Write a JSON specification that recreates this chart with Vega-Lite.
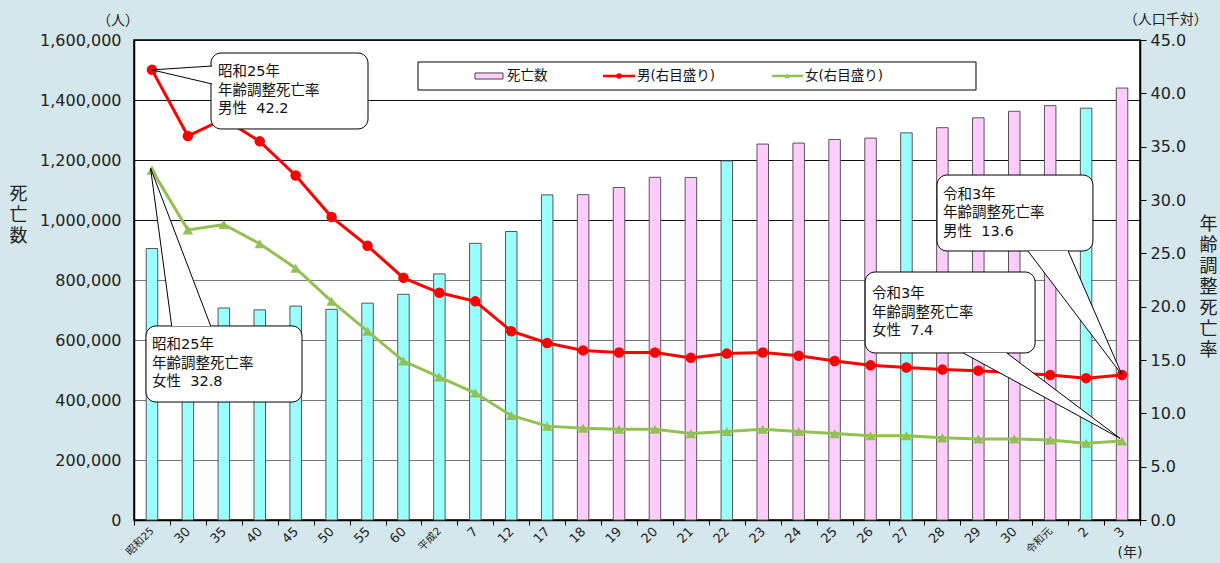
{
  "$schema": "https://vega.github.io/schema/vega-lite/v6.json",
  "width": 1006,
  "height": 480,
  "autosize": {"type": "none"},
  "padding": {"left": 134, "top": 40, "right": 80, "bottom": 43},
  "background": "#d4e7ec",
  "config": {
    "font": "DejaVu Sans, Noto Sans CJK JP",
    "view": {"fill": "white", "stroke": "black", "strokeWidth": 1.5},
    "axis": {"labelFont": "DejaVu Sans, Noto Sans CJK JP", "titleFont": "Noto Sans CJK JP", "labelColor": "#222", "titleColor": "#222", "domainColor": "black", "tickColor": "black", "domainWidth": 1.5},
    "axisX": {"labelAngle": -45, "labelAlign": "right", "labelBaseline": "middle"}
  },
  "datasets": {
    "deaths": [
      {"year": 1950, "deaths": 904876, "male": 42.2, "female": 32.8, "census": "yes"},
      {"year": 1955, "deaths": 693523, "male": 36.0, "female": 27.2, "census": "yes"},
      {"year": 1960, "deaths": 706599, "male": 37.6, "female": 27.7, "census": "yes"},
      {"year": 1965, "deaths": 700438, "male": 35.5, "female": 25.9, "census": "yes"},
      {"year": 1970, "deaths": 712962, "male": 32.3, "female": 23.6, "census": "yes"},
      {"year": 1975, "deaths": 702275, "male": 28.4, "female": 20.5, "census": "yes"},
      {"year": 1980, "deaths": 722801, "male": 25.7, "female": 17.7, "census": "yes"},
      {"year": 1985, "deaths": 752283, "male": 22.7, "female": 14.9, "census": "yes"},
      {"year": 1990, "deaths": 820305, "male": 21.3, "female": 13.4, "census": "yes"},
      {"year": 1995, "deaths": 922139, "male": 20.5, "female": 11.9, "census": "yes"},
      {"year": 2000, "deaths": 961653, "male": 17.7, "female": 9.8, "census": "yes"},
      {"year": 2005, "deaths": 1083796, "male": 16.6, "female": 8.8, "census": "yes"},
      {"year": 2006, "deaths": 1084450, "male": 15.9, "female": 8.6, "census": "no"},
      {"year": 2007, "deaths": 1108334, "male": 15.7, "female": 8.5, "census": "no"},
      {"year": 2008, "deaths": 1142407, "male": 15.7, "female": 8.5, "census": "no"},
      {"year": 2009, "deaths": 1141865, "male": 15.2, "female": 8.1, "census": "no"},
      {"year": 2010, "deaths": 1197012, "male": 15.6, "female": 8.3, "census": "yes"},
      {"year": 2011, "deaths": 1253066, "male": 15.7, "female": 8.5, "census": "no"},
      {"year": 2012, "deaths": 1256359, "male": 15.4, "female": 8.3, "census": "no"},
      {"year": 2013, "deaths": 1268436, "male": 14.9, "female": 8.1, "census": "no"},
      {"year": 2014, "deaths": 1273004, "male": 14.5, "female": 7.9, "census": "no"},
      {"year": 2015, "deaths": 1290444, "male": 14.3, "female": 7.9, "census": "yes"},
      {"year": 2016, "deaths": 1307748, "male": 14.1, "female": 7.7, "census": "no"},
      {"year": 2017, "deaths": 1340567, "male": 14.0, "female": 7.6, "census": "no"},
      {"year": 2018, "deaths": 1362470, "male": 13.8, "female": 7.6, "census": "no"},
      {"year": 2019, "deaths": 1381093, "male": 13.6, "female": 7.5, "census": "no"},
      {"year": 2020, "deaths": 1372755, "male": 13.3, "female": 7.2, "census": "yes"},
      {"year": 2021, "deaths": 1439856, "male": 13.6, "female": 7.4, "census": "no"}
    ],
    "callouts": [
      {"id": "m1950", "x": 2.143, "x2": 6.513, "y": 43.78, "y2": 36.66, "tx": 2.338, "ty": 42.61, "text": "昭和25年\n年齢調整死亡率\n男性\u00a0\u00a042.2"},
      {"id": "f1950", "x": 0.334, "x2": 4.676, "y": 18.19, "y2": 11.06, "tx": 0.501, "ty": 17.02, "text": "昭和25年\n年齢調整死亡率\n女性\u00a0\u00a032.8"},
      {"id": "m2021", "x": 22.35, "x2": 26.69, "y": 32.34, "y2": 25.22, "tx": 22.52, "ty": 31.17, "text": "令和3年\n年齢調整死亡率\n男性\u00a0\u00a013.6"},
      {"id": "f2021", "x": 20.35, "x2": 25.08, "y": 23.25, "y2": 15.66, "tx": 20.54, "ty": 21.80, "text": "令和3年\n年齢調整死亡率\n女性\u00a0\u00a07.4"}
    ],
    "pointers": [
      {"id": "m1950", "k": 0, "x": 2.171, "y": 42.56},
      {"id": "m1950", "k": 1, "x": 0.5, "y": 42.2},
      {"id": "m1950", "k": 2, "x": 2.171, "y": 40.88},
      {"id": "f1950", "k": 0, "x": 1.049, "y": 18.19},
      {"id": "f1950", "k": 1, "x": 0.46, "y": 33.0},
      {"id": "f1950", "k": 2, "x": 2.135, "y": 18.19},
      {"id": "m2021", "k": 0, "x": 24.88, "y": 25.22},
      {"id": "m2021", "k": 1, "x": 27.5, "y": 13.6},
      {"id": "m2021", "k": 2, "x": 26.0, "y": 25.22},
      {"id": "f2021", "k": 0, "x": 23.08, "y": 15.66},
      {"id": "f2021", "k": 1, "x": 27.44, "y": 7.66},
      {"id": "f2021", "k": 2, "x": 24.29, "y": 15.66}
    ],
    "legendBox": [{"x": 7.905, "x2": 23.435, "y": 42.94, "y2": 40.31}],
    "legendItems": [
      {"label": "死亡数", "sx": 9.491, "sx2": 10.27, "mx": 9.88, "tx": 10.381},
      {"label": "男(右目盛り)", "sx": 13.053, "sx2": 13.944, "mx": 13.499, "tx": 14.0},
      {"label": "女(右目盛り)", "sx": 17.757, "sx2": 18.62, "mx": 18.18, "tx": 18.675}
    ],
    "units": [
      {"text": "（人）", "x": -0.445, "y": 46.75},
      {"text": "（人口千対）", "x": 28.72, "y": 46.85},
      {"text": "(年)", "x": 27.72, "y": -3.1}
    ]
  },
  "layer": [
    {
      "data": {"name": "deaths"},
      "encoding": {
        "x": {
          "field": "year", "type": "ordinal",
          "scale": {"paddingInner": 0, "paddingOuter": 0},
          "axis": {
            "title": null,
            "labelExpr": "!isValid(datum.value) || !isFinite(datum.value) ? '' : datum.value == 1950 ? '昭和25' : datum.value < 1989 ? '' + (datum.value - 1925) : datum.value == 1990 ? '平成2' : datum.value < 2019 ? '' + (datum.value - 1988) : datum.value == 2019 ? '令和元' : '' + (datum.value - 2018)",
            "labelAngle": -45,
            "labelAlign": "right",
            "labelBaseline": "middle",
            "labelFontSize": {"condition": {"test": "datum.value == 1950 || datum.value == 1990 || datum.value == 2019", "value": 10.5}, "value": 13},
            "labelFlush": false,
            "labelOverlap": false,
            "tickBand": "extent",
            "tickSize": 5,
            "labelPadding": 4,
            "grid": false
          }
        }
      },
      "layer": [
        {
          "mark": {"type": "bar", "width": 11.5, "stroke": "#555", "strokeWidth": 1},
          "encoding": {
            "y": {
              "field": "deaths", "type": "quantitative",
              "scale": {"domain": [0, 1600000], "nice": false},
              "axis": {
                "values": [0, 200000, 400000, 600000, 800000, 1000000, 1200000, 1400000, 1600000],
                "format": ",d",
                "grid": true,
                "gridColor": {"condition": {"test": "datum.value >= 1000000", "value": "#111"}, "value": "#777"},
                "gridWidth": 1.2,
                "ticks": false,
                "labelPadding": 13,
                "labelFontSize": 16,
                "title": ["死", "亡", "数"],
                "titleAngle": 0,
                "titleX": -116,
                "titleY": 145,
                "titleAlign": "center",
                "titleBaseline": "top",
                "titleFontSize": 18,
                "titleFontWeight": "normal",
                "titleLineHeight": 21
              }
            },
            "color": {"field": "census", "type": "nominal", "scale": {"domain": ["yes", "no"], "range": ["#99ffff", "#ffccff"]}, "legend": null}
          }
        },
        {
          "transform": [{"fold": ["male", "female"], "as": ["sex", "rate"]}],
          "encoding": {
            "y": {
              "field": "rate", "type": "quantitative",
              "scale": {"domain": [0, 45], "nice": false},
              "axis": {
                "orient": "right",
                "values": [0, 5, 10, 15, 20, 25, 30, 35, 40, 45],
                "format": ".1f",
                "grid": false,
                "tickSize": 6,
                "labelPadding": 4,
                "labelFontSize": 16,
                "labelAngle": 0,
                "labelAlign": "left",
                "labelBaseline": "middle",
                "title": ["年", "齢", "調", "整", "死", "亡", "率"],
                "titleAngle": 0,
                "titleX": 68,
                "titleY": 175,
                "titleAlign": "center",
                "titleBaseline": "top",
                "titleFontSize": 18,
                "titleFontWeight": "normal",
                "titleLineHeight": 21
              }
            },
            "detail": {"field": "sex"}
          },
          "layer": [
            {
              "mark": {"type": "line", "strokeWidth": 3},
              "encoding": {"color": {"condition": {"test": "datum.sex == 'male'", "value": "#ff0000"}, "value": "#93c053"}}
            },
            {
              "mark": {"type": "point", "filled": true, "opacity": 1, "size": 110},
              "encoding": {
                "color": {"condition": {"test": "datum.sex == 'male'", "value": "#ff0000"}, "value": "#93c053"},
                "shape": {"condition": {"test": "datum.sex == 'male'", "value": "circle"}, "value": "triangle-up"}
              }
            }
          ]
        }
      ],
      "resolve": {"scale": {"y": "independent"}}
    },
    {
      "layer": [
        {
          "data": {"name": "callouts"},
          "mark": {"type": "rect", "fill": "white", "stroke": "black", "strokeWidth": 1, "cornerRadius": 10},
          "encoding": {
            "x": {"field": "x", "type": "quantitative", "scale": {"domain": [0, 28], "nice": false, "zero": false}, "axis": null},
            "x2": {"field": "x2"},
            "y": {"field": "y", "type": "quantitative", "scale": {"domain": [0, 45], "nice": false}, "axis": null},
            "y2": {"field": "y2"}
          }
        },
        {
          "data": {"name": "pointers"},
          "mark": {"type": "line", "stroke": "black", "strokeWidth": 1, "fill": "white"},
          "encoding": {
            "x": {"field": "x", "type": "quantitative", "axis": null},
            "y": {"field": "y", "type": "quantitative", "axis": null},
            "detail": {"field": "id"},
            "order": {"field": "k"}
          }
        },
        {
          "data": {"name": "callouts"},
          "mark": {"type": "text", "align": "left", "baseline": "top", "lineBreak": "\n", "lineHeight": 18.5, "fontSize": 14.5, "color": "#111"},
          "encoding": {
            "x": {"field": "tx", "type": "quantitative", "axis": null},
            "y": {"field": "ty", "type": "quantitative", "axis": null},
            "text": {"field": "text"}
          }
        },
        {
          "data": {"name": "legendBox"},
          "mark": {"type": "rect", "fill": "white", "stroke": "black", "strokeWidth": 1},
          "encoding": {
            "x": {"field": "x", "type": "quantitative", "axis": null},
            "x2": {"field": "x2"},
            "y": {"field": "y", "type": "quantitative", "axis": null},
            "y2": {"field": "y2"}
          }
        },
        {
          "data": {"name": "legendItems"},
          "transform": [{"filter": "datum.label == '死亡数'"}],
          "mark": {"type": "rect", "fill": "#ffccff", "stroke": "#444", "strokeWidth": 1},
          "encoding": {
            "x": {"field": "sx", "type": "quantitative", "axis": null},
            "x2": {"field": "sx2"},
            "y": {"datum": 41.91, "type": "quantitative", "axis": null},
            "y2": {"datum": 41.34}
          }
        },
        {
          "data": {"name": "legendItems"},
          "transform": [{"filter": "datum.label != '死亡数'"}],
          "mark": {"type": "rule", "strokeWidth": 2.5},
          "encoding": {
            "x": {"field": "sx", "type": "quantitative", "axis": null},
            "x2": {"field": "sx2"},
            "y": {"datum": 41.63, "type": "quantitative", "axis": null},
            "color": {"condition": {"test": "datum.label == '男(右目盛り)'", "value": "#ff0000"}, "value": "#93c053"}
          }
        },
        {
          "data": {"name": "legendItems"},
          "transform": [{"filter": "datum.label != '死亡数'"}],
          "mark": {"type": "point", "filled": true, "opacity": 1, "size": 30},
          "encoding": {
            "x": {"field": "mx", "type": "quantitative", "axis": null},
            "y": {"datum": 41.63, "type": "quantitative", "axis": null},
            "color": {"condition": {"test": "datum.label == '男(右目盛り)'", "value": "#ff0000"}, "value": "#93c053"},
            "shape": {"condition": {"test": "datum.label == '男(右目盛り)'", "value": "circle"}, "value": "triangle-up"}
          }
        },
        {
          "data": {"name": "legendItems"},
          "mark": {"type": "text", "align": "left", "baseline": "middle", "fontSize": 13.5, "color": "#111"},
          "encoding": {
            "x": {"field": "tx", "type": "quantitative", "axis": null},
            "y": {"datum": 41.63, "type": "quantitative", "axis": null},
            "text": {"field": "label"}
          }
        },
        {
          "data": {"name": "units"},
          "mark": {"type": "text", "align": "center", "baseline": "middle", "fontSize": 14, "color": "#222"},
          "encoding": {
            "x": {"field": "x", "type": "quantitative", "axis": null},
            "y": {"field": "y", "type": "quantitative", "axis": null},
            "text": {"field": "text"}
          }
        }
      ]
    }
  ],
  "resolve": {"scale": {"x": "independent", "y": "independent"}}
}
